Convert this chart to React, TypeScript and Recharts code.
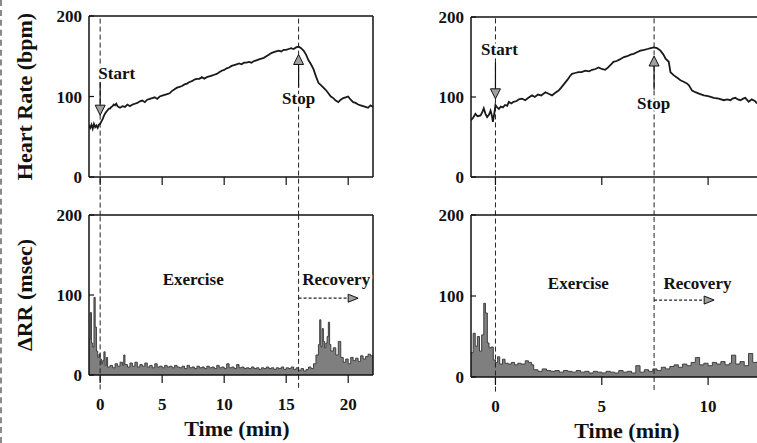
import { Area, ComposedChart, Line, ReferenceDot, ReferenceLine, XAxis, YAxis } from "recharts";

// Heart rate (bpm) against time (min)
const hrLeft: [number, number][] = [
  [-0.9, 64], [-0.8, 61], [-0.7, 65], [-0.6, 60], [-0.5, 66], [-0.4, 62], [-0.3, 64], [-0.2, 61], [-0.1, 65],
  [0, 66], [0.1, 69], [0.2, 72], [0.3, 76], [0.4, 79], [0.5, 81], [0.6, 83], [0.7, 85], [0.8, 85], [0.9, 87],
  [1.0, 88], [1.1, 90], [1.2, 89], [1.3, 91], [1.4, 88], [1.5, 87], [1.6, 86], [1.8, 88], [2.0, 87], [2.2, 90],
  [2.4, 88], [2.6, 90], [2.8, 91], [3.0, 92], [3.2, 94], [3.4, 95], [3.6, 93], [3.8, 96], [4.0, 97], [4.2, 98],
  [4.4, 99], [4.6, 97], [4.8, 100], [5.0, 101], [5.2, 102], [5.4, 103], [5.6, 104], [5.8, 107], [6.0, 109],
  [6.2, 111], [6.4, 112], [6.6, 113], [6.8, 115], [7.0, 116], [7.2, 118], [7.4, 119], [7.6, 121], [7.8, 122],
  [8.0, 122], [8.2, 124], [8.4, 122], [8.6, 124], [8.8, 125], [9.0, 126], [9.2, 127], [9.4, 128], [9.6, 130],
  [9.8, 132], [10.0, 133], [10.2, 135], [10.4, 136], [10.6, 138], [10.8, 139], [11.0, 140], [11.2, 141],
  [11.4, 140], [11.6, 142], [11.8, 142], [12.0, 143], [12.2, 142], [12.4, 144], [12.6, 145], [12.8, 146],
  [13.0, 147], [13.2, 148], [13.4, 150], [13.6, 152], [13.8, 154], [14.0, 155], [14.2, 156], [14.4, 157],
  [14.6, 156], [14.8, 158], [15.0, 158], [15.2, 159], [15.4, 160], [15.6, 159], [15.8, 161], [16.0, 162],
  [16.2, 160], [16.4, 157], [16.6, 152], [16.8, 145], [17.0, 140], [17.2, 134], [17.4, 125], [17.6, 117],
  [17.8, 114], [18.0, 111], [18.2, 108], [18.4, 104], [18.6, 100], [18.8, 98], [19.0, 95], [19.2, 93],
  [19.4, 96], [19.6, 98], [19.8, 99], [20.0, 100], [20.2, 96], [20.4, 93], [20.6, 92], [20.8, 90], [21.0, 89],
  [21.2, 88], [21.4, 87], [21.6, 86], [21.8, 89], [22.0, 87],
];

const hrRight: [number, number][] = [
  [-1.15, 71], [-1.05, 74], [-0.94, 79], [-0.85, 76], [-0.7, 77], [-0.62, 81], [-0.55, 86], [-0.47, 79],
  [-0.39, 75], [-0.3, 78], [-0.23, 83], [-0.17, 77], [-0.12, 69], [-0.05, 80], [0, 90], [0.08, 87], [0.16, 85],
  [0.25, 88], [0.35, 87], [0.45, 90], [0.55, 89], [0.63, 94], [0.75, 92], [0.85, 94], [1.0, 95], [1.1, 97],
  [1.25, 98], [1.4, 96], [1.55, 99], [1.72, 102], [1.85, 100], [2.0, 103], [2.15, 102], [2.35, 106], [2.5, 104],
  [2.66, 102], [2.8, 105], [2.97, 108], [3.1, 112], [3.25, 117], [3.4, 122], [3.5, 126], [3.6, 129], [3.75, 130],
  [3.9, 131], [4.05, 131], [4.23, 133], [4.4, 132], [4.55, 134], [4.7, 135], [4.85, 137], [5.0, 135], [5.16, 134],
  [5.3, 137], [5.45, 141], [5.55, 144], [5.7, 145], [5.85, 147], [6.04, 150], [6.2, 151], [6.35, 153], [6.5, 154],
  [6.65, 156], [6.82, 158], [7.0, 159], [7.15, 160], [7.3, 161], [7.45, 162], [7.6, 161], [7.76, 158], [7.9, 153],
  [8.0, 148], [8.15, 144], [8.23, 131], [8.39, 127], [8.55, 124], [8.7, 121], [8.85, 119], [9.0, 117], [9.09, 115],
  [9.25, 108], [9.4, 106], [9.6, 104], [9.8, 102], [10.0, 101], [10.27, 99], [10.5, 98], [10.74, 96], [10.9, 97],
  [11.05, 96], [11.15, 98], [11.28, 99], [11.4, 97], [11.52, 96], [11.65, 98], [11.75, 99], [11.91, 94],
  [12.05, 97], [12.2, 95], [12.3, 92],
];

// beat-to-beat ΔRR (msec), lower panels
const rrLeft: [number, number][] = [
  [-0.9, 45], [-0.8, 78], [-0.7, 40], [-0.6, 35], [-0.5, 97], [-0.4, 60], [-0.3, 30], [-0.2, 22], [-0.1, 26],
  [0, 20], [0.1, 14], [0.2, 18], [0.3, 29], [0.4, 12], [0.5, 22], [0.6, 10], [0.8, 12], [1.0, 9], [1.2, 14],
  [1.4, 11], [1.6, 16], [1.8, 12], [1.9, 25], [2.0, 13], [2.2, 10], [2.4, 15], [2.6, 11], [2.8, 16], [3.0, 10],
  [3.2, 13], [3.4, 11], [3.6, 15], [3.8, 10], [4.0, 12], [4.2, 9], [4.4, 14], [4.6, 10], [4.8, 11], [5.0, 9],
  [5.2, 12], [5.4, 10], [5.6, 11], [5.8, 9], [6.0, 12], [6.2, 10], [6.4, 9], [6.6, 11], [6.8, 8], [7.0, 12],
  [7.2, 9], [7.4, 10], [7.6, 8], [7.8, 11], [8.0, 9], [8.2, 10], [8.4, 8], [8.6, 11], [8.8, 9], [9.0, 10],
  [9.2, 8], [9.4, 12], [9.6, 9], [9.8, 10], [10.0, 8], [10.2, 14], [10.4, 9], [10.6, 10], [10.8, 8], [11.0, 13],
  [11.2, 9], [11.4, 10], [11.6, 8], [11.8, 9], [12.0, 8], [12.2, 10], [12.4, 8], [12.6, 9], [12.8, 7], [13.0, 9],
  [13.2, 8], [13.4, 10], [13.6, 8], [13.8, 9], [14.0, 7], [14.2, 9], [14.4, 8], [14.6, 10], [14.8, 7], [15.0, 9],
  [15.2, 8], [15.4, 10], [15.6, 7], [15.8, 9], [16.0, 6], [16.2, 8], [16.4, 5], [16.6, 7], [16.8, 10], [17.0, 8],
  [17.2, 14], [17.4, 25], [17.6, 38], [17.7, 69], [17.8, 35], [17.9, 58], [18.0, 42], [18.1, 34], [18.2, 40],
  [18.3, 48], [18.4, 66], [18.5, 38], [18.6, 30], [18.8, 34], [19.0, 25], [19.2, 42], [19.4, 22], [19.6, 16],
  [19.8, 20], [20.0, 14], [20.2, 22], [20.4, 18], [20.6, 21], [20.8, 17], [21.0, 24], [21.2, 20], [21.4, 23],
  [21.6, 26], [21.8, 24], [22.0, 25],
];

const rrRight: [number, number][] = [
  [-1.15, 30], [-1.05, 54], [-0.95, 38], [-0.85, 50], [-0.75, 32], [-0.65, 52], [-0.55, 91], [-0.47, 79],
  [-0.38, 42], [-0.3, 36], [-0.2, 37], [-0.1, 21], [0, 18], [0.1, 25], [0.2, 16], [0.33, 22], [0.45, 17],
  [0.6, 16], [0.75, 18], [0.9, 15], [1.05, 17], [1.2, 16], [1.4, 20], [1.55, 18], [1.7, 15], [1.8, 9], [2.0, 7],
  [2.2, 10], [2.4, 8], [2.6, 7], [2.8, 8], [3.0, 6], [3.2, 8], [3.4, 7], [3.6, 6], [3.8, 8], [4.0, 6], [4.2, 7],
  [4.4, 5], [4.6, 7], [4.8, 6], [5.0, 5], [5.2, 7], [5.4, 6], [5.6, 5], [5.8, 8], [6.0, 6], [6.2, 7], [6.4, 5],
  [6.6, 14], [6.8, 6], [7.0, 9], [7.2, 7], [7.4, 10], [7.6, 8], [7.8, 12], [8.0, 10], [8.2, 13], [8.4, 15],
  [8.6, 12], [8.8, 16], [9.0, 14], [9.2, 18], [9.4, 24], [9.6, 15], [9.8, 17], [10.0, 14], [10.2, 18], [10.4, 16],
  [10.6, 19], [10.8, 15], [11.0, 17], [11.1, 27], [11.3, 16], [11.5, 19], [11.7, 14], [11.9, 29], [12.1, 18],
  [12.3, 19],
];

const leftTicks = [0, 5, 10, 15, 20];
const rightTicks = [0, 5, 10];
const yTicks = [0, 100, 200];
const leftDomain: [number, number] = [-0.9, 22];
const rightDomain: [number, number] = [-1.15, 12.3];
const leftStop = 16;
const rightStop = 7.46;

const INK = "#111";
const FONT = "'Liberation Serif', 'Times New Roman', serif";

const rows = (pairs: [number, number][]) => pairs.map(([t, v]) => ({ t, v }));

const tickStyle = { fontSize: 17, fontWeight: 700, fill: INK, fontFamily: FONT };

const textShape = (label: string, anchor = "middle") => (p: any) => (
  <text
    x={p.cx}
    y={p.cy}
    textAnchor={anchor}
    dominantBaseline="central"
    fontFamily={FONT}
    fontWeight={700}
    fontSize={17}
    fill={INK}
    stroke="#fff"
    strokeWidth={4}
    paintOrder="stroke"
  >
    {label}
  </text>
);

const head = (dir: "up" | "down" | "right") => (p: any) => {
  const { cx, cy } = p;
  let d = "";
  if (dir === "down") d = `M${cx - 5},${cy - 5}L${cx + 5},${cy - 5}L${cx},${cy + 5}Z`;
  if (dir === "up") d = `M${cx - 5},${cy + 5}L${cx + 5},${cy + 5}L${cx},${cy - 5}Z`;
  if (dir === "right") d = `M${cx - 5},${cy - 4}L${cx - 5},${cy + 4}L${cx + 5},${cy}Z`;
  return <path d={d} fill="#a0a0a0" stroke={INK} strokeWidth={1} />;
};

const yTitle = (text: string) => (props: any) => {
  const vb = props.viewBox;
  const cx = vb.x + 24;
  const cy = vb.y + vb.height / 2;
  return (
    <text
      x={cx}
      y={cy}
      transform={`rotate(-90 ${cx} ${cy})`}
      textAnchor="middle"
      dominantBaseline="central"
      fontFamily={FONT}
      fontWeight={700}
      fontSize={22}
      fill={INK}
    >
      {text}
    </text>
  );
};

const xTitle = (shift: number) => (props: any) => {
  const vb = props.viewBox;
  return (
    <text
      x={vb.x + vb.width / 2 + shift}
      y={vb.y + 61}
      textAnchor="middle"
      fontFamily={FONT}
      fontWeight={700}
      fontSize={22}
      fill={INK}
    >
      Time (min)
    </text>
  );
};

interface Notes {
  startText: [number, number, string];
  startShaft: [number, number];
  startHead: number;
  stopText: [number, number];
  stopShaft: [number, number];
  stopHead: number;
}

interface HrProps {
  data: [number, number][];
  domain: [number, number];
  ticks: number[];
  stop: number;
  width: number;
  axisWidth: number;
  marginTop: number;
  marginRight: number;
  frameRight: boolean;
  title?: string;
  notes: Notes;
}

function HeartRatePanel({ data, domain, ticks, stop, width, axisWidth, marginTop, marginRight, frameRight, title, notes }: HrProps) {
  const [stx, sty, anchor] = notes.startText;
  return (
    <ComposedChart
      width={width}
      height={215}
      data={rows(data)}
      margin={{ top: marginTop, right: marginRight, bottom: 28, left: 0 }}
    >
      <XAxis
        dataKey="t"
        type="number"
        domain={domain}
        ticks={ticks}
        interval={0}
        allowDataOverflow
        height={10}
        tickSize={8}
        tickFormatter={() => ""}
        axisLine={{ stroke: INK, strokeWidth: 1.5 }}
        tickLine={{ stroke: INK, strokeWidth: 1.2 }}
      />
      <YAxis
        type="number"
        domain={[0, 200]}
        ticks={yTicks}
        interval={0}
        allowDataOverflow
        width={axisWidth}
        tickSize={-5}
        tickMargin={12}
        tick={tickStyle}
        axisLine={{ stroke: INK, strokeWidth: 1.5 }}
        tickLine={{ stroke: INK, strokeWidth: 1.2 }}
        label={title ? yTitle(title) : undefined}
      />
      <ReferenceLine y={200} stroke={INK} strokeWidth={1.5} />
      {frameRight && <ReferenceLine x={domain[1]} stroke={INK} strokeWidth={1.5} />}
      <ReferenceLine
        segment={[{ x: 0, y: -48 }, { x: 0, y: 200 }]}
        ifOverflow="visible"
        stroke="#222"
        strokeDasharray="5 3"
      />
      <ReferenceLine
        segment={[{ x: stop, y: -48 }, { x: stop, y: 200 }]}
        ifOverflow="visible"
        stroke="#222"
        strokeDasharray="5 3"
      />
      <Line
        type="linear"
        dataKey="v"
        stroke="#1a1a1a"
        strokeWidth={1.8}
        dot={false}
        isAnimationActive={false}
      />
      <ReferenceLine
        segment={[{ x: 0, y: notes.startShaft[0] }, { x: 0, y: notes.startShaft[1] }]}
        stroke={INK}
        strokeWidth={1.2}
      />
      <ReferenceDot x={0} y={notes.startHead} r={5} shape={head("down")} />
      <ReferenceDot x={stx} y={sty} r={1} shape={textShape("Start", anchor)} />
      <ReferenceLine
        segment={[{ x: stop, y: notes.stopShaft[0] }, { x: stop, y: notes.stopShaft[1] }]}
        stroke={INK}
        strokeWidth={1.2}
      />
      <ReferenceDot x={stop} y={notes.stopHead} r={5} shape={head("up")} />
      <ReferenceDot x={notes.stopText[0]} y={notes.stopText[1]} r={1} shape={textShape("Stop")} />
    </ComposedChart>
  );
}

interface RrNotes {
  exercise: [number, number];
  recovery: [number, number];
  arrowEnd: number;
  arrowHead: number;
  arrowY: number;
}

interface RrProps {
  data: [number, number][];
  domain: [number, number];
  ticks: number[];
  stop: number;
  width: number;
  axisWidth: number;
  marginRight: number;
  axisHeight: number;
  frameRight: boolean;
  title?: string;
  titleShift: number;
  notes: RrNotes;
}

function DeltaRRPanel({ data, domain, ticks, stop, width, axisWidth, marginRight, axisHeight, frameRight, title, titleShift, notes }: RrProps) {
  return (
    <ComposedChart
      width={width}
      height={243}
      data={rows(data)}
      margin={{ top: 15, right: marginRight, bottom: 8, left: 0 }}
    >
      <XAxis
        dataKey="t"
        type="number"
        domain={domain}
        ticks={ticks}
        interval={0}
        allowDataOverflow
        height={axisHeight}
        tickSize={8}
        tickMargin={15}
        tick={tickStyle}
        axisLine={{ stroke: INK, strokeWidth: 1.5 }}
        tickLine={{ stroke: INK, strokeWidth: 1.2 }}
        label={xTitle(titleShift)}
      />
      <YAxis
        type="number"
        domain={[0, 200]}
        ticks={yTicks}
        interval={0}
        allowDataOverflow
        width={axisWidth}
        tickSize={-5}
        tickMargin={12}
        tick={tickStyle}
        axisLine={{ stroke: INK, strokeWidth: 1.5 }}
        tickLine={{ stroke: INK, strokeWidth: 1.2 }}
        label={title ? yTitle(title) : undefined}
      />
      <Area
        type="stepAfter"
        dataKey="v"
        baseValue={0}
        stroke="#333"
        strokeWidth={0.9}
        fill="#7f7f7f"
        fillOpacity={1}
        isAnimationActive={false}
      />
      <ReferenceLine y={200} stroke={INK} strokeWidth={1.5} />
      {frameRight && <ReferenceLine x={domain[1]} stroke={INK} strokeWidth={1.5} />}
      <ReferenceLine
        segment={[{ x: 0, y: -18 }, { x: 0, y: 200 }]}
        ifOverflow="visible"
        stroke="#222"
        strokeDasharray="5 3"
      />
      <ReferenceLine
        segment={[{ x: stop, y: -16 }, { x: stop, y: 200 }]}
        ifOverflow="visible"
        stroke="#222"
        strokeDasharray="5 3"
      />
      <ReferenceLine
        segment={[{ x: stop, y: notes.arrowY }, { x: notes.arrowEnd, y: notes.arrowY }]}
        stroke="#222"
        strokeWidth={1.2}
        strokeDasharray="3 2"
      />
      <ReferenceDot x={notes.arrowHead} y={notes.arrowY} r={5} shape={head("right")} />
      <ReferenceDot x={notes.exercise[0]} y={notes.exercise[1]} r={1} shape={textShape("Exercise")} />
      <ReferenceDot x={notes.recovery[0]} y={notes.recovery[1]} r={1} shape={textShape("Recovery")} />
    </ComposedChart>
  );
}

export default function App() {
  return (
    <div
      style={{
        position: "fixed",
        left: 0,
        top: 0,
        width: 757,
        height: 443,
        overflow: "hidden",
        background: "#fff",
        fontFamily: FONT,
      }}
    >
      <div style={{ position: "absolute", left: 0, top: 0, width: 2, height: 443, borderLeft: "2px dashed #8a8a8a" }} />
      <div style={{ position: "absolute", left: 0, top: 0 }}>
        <HeartRatePanel
          data={hrLeft}
          domain={leftDomain}
          ticks={leftTicks}
          stop={leftStop}
          width={380}
          axisWidth={89}
          marginTop={16}
          marginRight={7}
          frameRight
          title="Heart Rate (bpm)"
          notes={{
            startText: [-0.15, 128, "start"],
            startShaft: [118, 88],
            startHead: 83,
            stopText: [leftStop, 98],
            stopShaft: [141, 111],
            stopHead: 146,
          }}
        />
      </div>
      <div style={{ position: "absolute", left: 0, top: 200 }}>
        <DeltaRRPanel
          data={rrLeft}
          domain={leftDomain}
          ticks={leftTicks}
          stop={leftStop}
          width={380}
          axisWidth={89}
          marginRight={7}
          axisHeight={60}
          frameRight
          title="ΔRR (msec)"
          titleShift={6}
          notes={{ exercise: [7.5, 119], recovery: [19.03, 120], arrowEnd: 20.0, arrowHead: 20.4, arrowY: 96 }}
        />
      </div>
      <div style={{ position: "absolute", left: 380, top: 0 }}>
        <HeartRatePanel
          data={hrRight}
          domain={rightDomain}
          ticks={rightTicks}
          stop={rightStop}
          width={377}
          axisWidth={91}
          marginTop={17}
          marginRight={0}
          frameRight={false}
          notes={{
            startText: [0.19, 159, "middle"],
            startShaft: [143, 108],
            startHead: 104,
            stopText: [7.44, 92],
            stopShaft: [140, 109],
            stopHead: 145,
          }}
        />
      </div>
      <div style={{ position: "absolute", left: 380, top: 200 }}>
        <DeltaRRPanel
          data={rrRight}
          domain={rightDomain}
          ticks={rightTicks}
          stop={rightStop}
          width={377}
          axisWidth={91}
          marginRight={0}
          axisHeight={58}
          frameRight={false}
          titleShift={13}
          notes={{ exercise: [3.9, 116], recovery: [9.5, 116], arrowEnd: 9.85, arrowHead: 10.05, arrowY: 95 }}
        />
      </div>
    </div>
  );
}
